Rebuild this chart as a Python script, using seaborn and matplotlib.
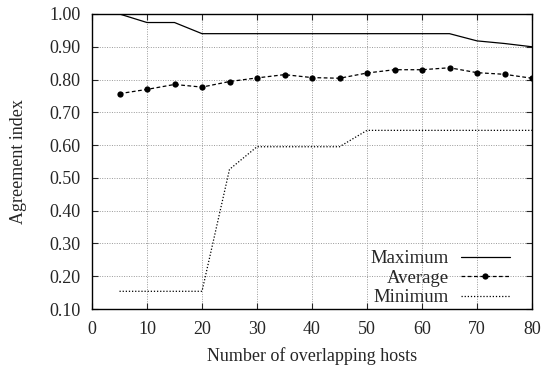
import numpy as np
import pandas as pd
import seaborn as sns
import matplotlib
matplotlib.use("Agg")
import matplotlib.pyplot as plt

hosts = [5, 10, 15, 20, 25, 30, 35, 40, 45, 50, 55, 60, 65, 70, 75, 80]
maximum = [1.00, 0.974, 0.974, 0.94, 0.94, 0.94, 0.94, 0.94, 0.94, 0.94, 0.94, 0.94, 0.94, 0.918, 0.91, 0.90]
average = [0.757, 0.770, 0.785, 0.777, 0.794, 0.805, 0.815, 0.806, 0.804, 0.820, 0.830, 0.830, 0.836, 0.821, 0.816, 0.804]
minimum = [0.154, 0.154, 0.154, 0.154, 0.526, 0.595, 0.595, 0.595, 0.595, 0.645, 0.645, 0.645, 0.645, 0.645, 0.645, 0.645]

df = pd.DataFrame({"hosts": hosts, "Maximum": maximum, "Average": average, "Minimum": minimum})

sns.set_style("ticks")
plt.rcParams["font.family"] = ["Liberation Serif", "DejaVu Serif"]

fig, ax = plt.subplots(figsize=(5.43, 3.66), dpi=100)
fig.subplots_adjust(left=92 / 543, right=532 / 543, bottom=1 - 309 / 366, top=1 - 14 / 366)

sns.lineplot(data=df, x="hosts", y="Maximum", ax=ax, color="black", lw=0.9, label="Maximum")
sns.lineplot(data=df, x="hosts", y="Average", ax=ax, color="black", lw=0.9, linestyle=(0, (3, 2)),
             marker="o", markersize=4.5, markeredgewidth=0, label="Average")
sns.lineplot(data=df, x="hosts", y="Minimum", ax=ax, color="black", lw=0.9, linestyle=(0, (1, 1.5)),
             label="Minimum")

ax.set_xlim(0, 80)
ax.set_ylim(0.10, 1.00)
ax.set_xticks(range(0, 81, 10))
ax.set_yticks(np.arange(0.1, 1.001, 0.1))
ax.set_yticklabels([f"{v:.2f}" for v in np.arange(0.1, 1.001, 0.1)])
ax.grid(True, color="#999999", linestyle=(0, (1, 1.5)), linewidth=0.7)
ax.tick_params(direction="in", top=True, right=True, labelsize=13, length=4, width=0.8, pad=8.5)
for s in ax.spines.values():
    s.set_visible(True)
    s.set_linewidth(1.0)
    s.set_color("black")
ax.set_xlabel("Number of overlapping hosts", fontsize=13, labelpad=7)
ax.set_ylabel("Agreement index", fontsize=13, labelpad=16)

ax.legend(loc="lower right", bbox_to_anchor=(0.956, 0.0), frameon=False, markerfirst=False,
          fontsize=13.5, handlelength=2.6, labelspacing=0.12, borderaxespad=0, borderpad=0.15,
          handletextpad=0.65)

fig.savefig("out.png", dpi=100)
